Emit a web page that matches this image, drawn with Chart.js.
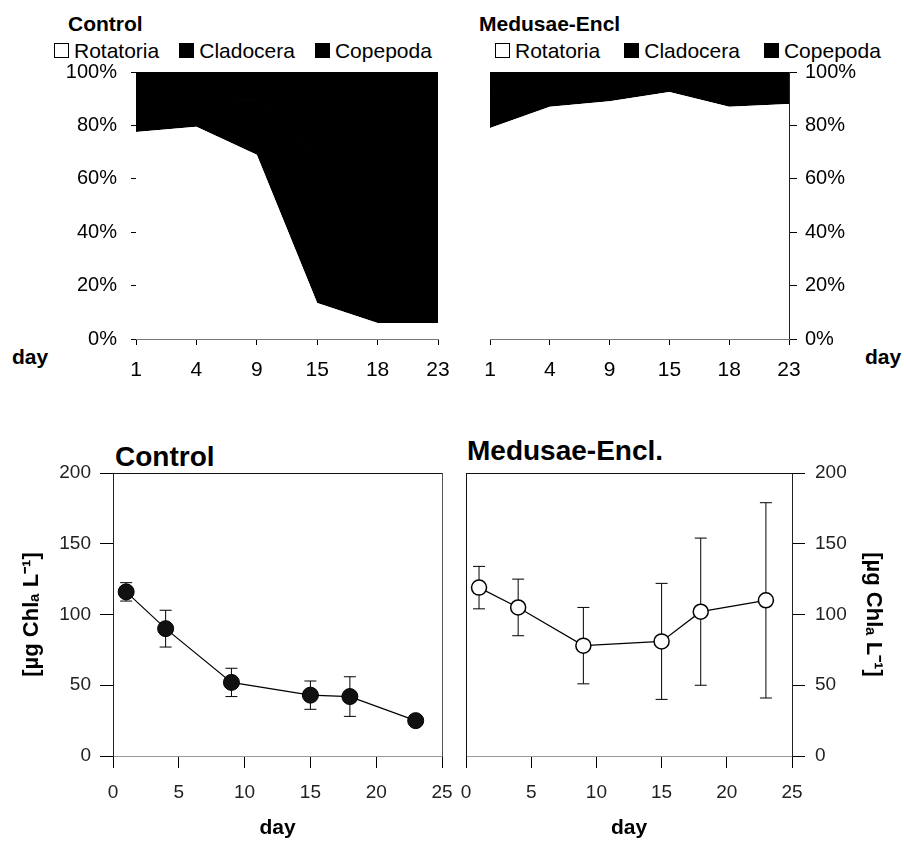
<!DOCTYPE html>
<html>
<head>
<meta charset="utf-8">
<script src="https://cdn.jsdelivr.net/npm/chart.js@4.4.1/dist/chart.umd.min.js"></script>
<style>
  body { margin: 0; background: #fff; width: 904px; height: 841px; position: relative; overflow: hidden;
         font-family: "Liberation Sans", Arial, sans-serif; color: #000; }
  .box { position: absolute; }
  .box canvas { display: block; }
  .t { position: absolute; white-space: nowrap; line-height: 1; }
  .b20 { font-size: 21px; font-weight: bold; }
  .b28 { font-size: 28px; font-weight: bold; }
  .legend { position: absolute; display: flex; align-items: center; font-size: 21px; line-height: 1; white-space: nowrap; }
  .legend .item { display: flex; align-items: center; margin-right: 20px; }
  #legMedusae .item { margin-right: 24px; }
  .legend i { display: inline-block; width: 13px; height: 13px; border: 1px solid #000; margin-right: 5px; }
</style>
</head>
<body>

<div class="t b20" style="left:68px; top:13px;">Control</div>
<div class="legend" id="legControl" style="left:54px; top:40px;"></div>
<div class="t b20" style="left:12px; top:346px;">day</div>
<div class="box" style="left:0; top:60px;"><canvas id="areaControl" width="450" height="330"></canvas></div>

<div class="t b20" style="left:479px; top:13px;">Medusae-Encl</div>
<div class="legend" id="legMedusae" style="left:495px; top:40px;"></div>
<div class="t b20" style="left:865px; top:346px;">day</div>
<div class="box" style="left:450px; top:60px;"><canvas id="areaMedusae" width="454" height="330"></canvas></div>

<div class="t b28" style="left:115px; top:443px;">Control</div>
<div class="box" style="left:0; top:440px;"><canvas id="chlControl" width="460" height="401"></canvas></div>

<div class="t b28" style="left:467px; top:437px;">Medusae-Encl.</div>
<div class="box" style="left:455px; top:440px;"><canvas id="chlMedusae" width="449" height="401"></canvas></div>

<script>
// zooplankton composition (% of individuals)
const dayLabels = ['1', '4', '9', '15', '18', '23'];
const taxa = ['Rotatoria', 'Cladocera', 'Copepoda'];
const controlRotatoria = [77.5, 79.5, 69, 13.5, 6, 6];
const controlCladocera = [14, 12, 20, 55, 62, 60];
const controlCopepoda  = [8.5, 8.5, 11, 31.5, 32, 34];
const medusaeRotatoria = [79, 87, 89, 92.5, 87, 88];
const medusaeCladocera = [12, 8, 7, 4, 9, 7];
const medusaeCopepoda  = [9, 5, 4, 3.5, 4, 5];

// chlorophyll a, mean and sd
const days = [1, 4, 9, 15, 18, 23];
const chlControl   = [116, 90, 52, 43, 42, 25];
const chlControlSd = [6.5, 13, 10, 10, 14, 2];
const chlMedusae   = [119, 105, 78, 81, 102, 110];
const chlMedusaeSd = [15, 20, 27, 41, 52, 69];

const taxaFill = ['#fff', '#000', '#000'];
const chlTitle = '[µg Chlₐ L⁻¹]';

Chart.defaults.font.family = '"Liberation Sans", Arial, sans-serif';
Chart.defaults.color = '#000';
Chart.defaults.animation = false;

// fixed axis sizes, no extra label padding pushed into the layout
function noPad(s) { s.paddingTop = 0; s.paddingBottom = 0; s.paddingLeft = 0; s.paddingRight = 0; }
function fixW(w) { return s => { s.width = w; noPad(s); }; }
function fixH(h) { return s => { s.height = h; noPad(s); }; }

// legends
function buildLegend(id) {
  const el = document.getElementById(id);
  taxa.forEach((name, i) => {
    const item = document.createElement('span');
    item.className = 'item';
    item.innerHTML = '<i style="background:' + taxaFill[i] + '"></i>' + name;
    el.appendChild(item);
  });
}
buildLegend('legControl');
buildLegend('legMedusae');

function areaSets(rot, clad, cope) {
  return [rot, clad, cope].map((vals, i) => ({
    label: taxa[i],
    data: vals,
    yAxisID: 'y',
    fill: i === 0 ? 'origin' : '-1',
    backgroundColor: taxaFill[i],
    borderColor: taxaFill[i],
    borderWidth: i === 0 ? 0 : 1.5,
    pointRadius: 0,
    tension: 0
  }));
}

function borderOnly(position, size, color) {
  const s = {
    position: position,
    display: true,
    min: 0, max: 100,
    ticks: { display: false },
    grid: { display: false },
    border: { color: color, width: 1 }
  };
  if (position === 'left' || position === 'right') s.afterFit = fixW(size);
  else s.afterFit = fixH(size);
  return s;
}

function catX() {
  return {
    type: 'category',
    offset: false,
    ticks: { font: { size: 21 }, padding: 13, maxRotation: 0, autoSkip: false, color: '#000' },
    grid: { drawOnChartArea: false, tickLength: 6, color: '#000' },
    border: { color: '#777', dash: [2, 2] },
    afterFit: fixH(51)
  };
}

new Chart(document.getElementById('areaControl'), {
  type: 'line',
  data: { labels: dayLabels, datasets: areaSets(controlRotatoria, controlCladocera, controlCopepoda) },
  options: {
    responsive: false,
    layout: { padding: { left: 0, right: 12, top: 12, bottom: 0 } },
    plugins: { legend: { display: false }, tooltip: { enabled: false } },
    scales: {
      y: {
        position: 'left', stacked: true, min: 0, max: 100,
        ticks: { stepSize: 20, callback: v => v + '%', font: { size: 20 }, padding: 14, color: '#000' },
        grid: { drawOnChartArea: false, tickLength: 5, color: '#000' },
        border: { color: '#888', width: 1 },
        afterFit: fixW(136)
      },
      x: catX()
    }
  }
});

new Chart(document.getElementById('areaMedusae'), {
  type: 'line',
  data: { labels: dayLabels, datasets: areaSets(medusaeRotatoria, medusaeCladocera, medusaeCopepoda) },
  options: {
    responsive: false,
    layout: { padding: { left: 40, right: 0, top: 12, bottom: 0 } },
    plugins: { legend: { display: false }, tooltip: { enabled: false } },
    scales: {
      y: {
        position: 'right', stacked: true, min: 0, max: 100,
        ticks: { stepSize: 20, callback: v => v + '%', font: { size: 20 }, padding: 8, color: '#000' },
        grid: { drawOnChartArea: false, tickLength: 8, color: '#000' },
        border: { color: '#222', width: 1 },
        afterFit: fixW(115)
      },
      yL: borderOnly('left', 0, '#222'),
      x: catX()
    }
  }
});

// error bars drawn through the chart's own scales
const errorBars = {
  id: 'errorBars',
  beforeDatasetsDraw(chart, args, opts) {
    const { ctx } = chart;
    const x = chart.scales.x, y = chart.scales.y;
    const pts = chart.data.datasets[0].data;
    ctx.save();
    ctx.strokeStyle = '#000';
    ctx.lineWidth = 1;
    pts.forEach((p, i) => {
      const px = x.getPixelForValue(p.x);
      const hi = y.getPixelForValue(p.y + opts.sd[i]);
      const lo = y.getPixelForValue(p.y - opts.sd[i]);
      ctx.beginPath();
      ctx.moveTo(px, hi); ctx.lineTo(px, lo);
      ctx.moveTo(px - 6, hi); ctx.lineTo(px + 6, hi);
      ctx.moveTo(px - 6, lo); ctx.lineTo(px + 6, lo);
      ctx.stroke();
    });
    ctx.restore();
  }
};

function chlScales(side, yWidth, titlePad, tickPad) {
  return {
    x: {
      type: 'linear', position: 'bottom', min: 0, max: 25,
      ticks: { stepSize: 5, font: { size: 19 }, padding: 13, color: '#222' },
      grid: { drawOnChartArea: false, tickLength: 12, color: '#000' },
      border: { color: '#999', dash: [2, 2] },
      title: { display: true, text: 'day', font: { size: 21, weight: 'bold' }, padding: { top: 0, bottom: 0 }, color: '#000' },
      afterFit: fixH(85)
    },
    y: {
      type: 'linear', position: side, min: 0, max: 200,
      ticks: { stepSize: 50, font: { size: 19 }, padding: tickPad, color: '#222' },
      grid: { drawOnChartArea: false, tickLength: 13, color: '#000' },
      border: { color: '#222', width: 1 },
      title: { display: true, text: chlTitle, font: { size: 22, weight: 'bold' }, padding: { top: titlePad, bottom: 0 }, color: '#000' },
      afterFit: fixW(yWidth)
    },
    x2: borderOnly('top', 0, '#111')
  };
}

function chlPoints(vals) {
  return days.map((d, i) => ({ x: d, y: vals[i] }));
}

const cScales = chlScales('left', 113, 19, 9);
cScales.y2 = borderOnly('right', 18, '#555');
new Chart(document.getElementById('chlControl'), {
  type: 'line',
  data: {
    datasets: [{
      label: 'Control',
      data: chlPoints(chlControl),
      borderColor: '#000', borderWidth: 1.2,
      pointRadius: 8, pointBackgroundColor: '#111', pointBorderColor: '#000', pointBorderWidth: 1,
      tension: 0, xAxisID: 'x', yAxisID: 'y'
    }]
  },
  options: {
    responsive: false,
    layout: { padding: { left: 0, right: 0, top: 33, bottom: 0 } },
    plugins: { legend: { display: false }, tooltip: { enabled: false }, errorBars: { sd: chlControlSd } },
    scales: cScales
  },
  plugins: [errorBars]
});

const mScales = chlScales('right', 112, 18, 10);
mScales.yL = borderOnly('left', 0, '#111');
new Chart(document.getElementById('chlMedusae'), {
  type: 'line',
  data: {
    datasets: [{
      label: 'Medusae-Encl.',
      data: chlPoints(chlMedusae),
      borderColor: '#000', borderWidth: 1.2,
      pointRadius: 7.5, pointBackgroundColor: '#fff', pointBorderColor: '#000', pointBorderWidth: 1.5,
      tension: 0, xAxisID: 'x', yAxisID: 'y'
    }]
  },
  options: {
    responsive: false,
    layout: { padding: { left: 11, right: 0, top: 33, bottom: 0 } },
    plugins: { legend: { display: false }, tooltip: { enabled: false }, errorBars: { sd: chlMedusaeSd } },
    scales: mScales
  },
  plugins: [errorBars]
});
</script>
</body>
</html>
